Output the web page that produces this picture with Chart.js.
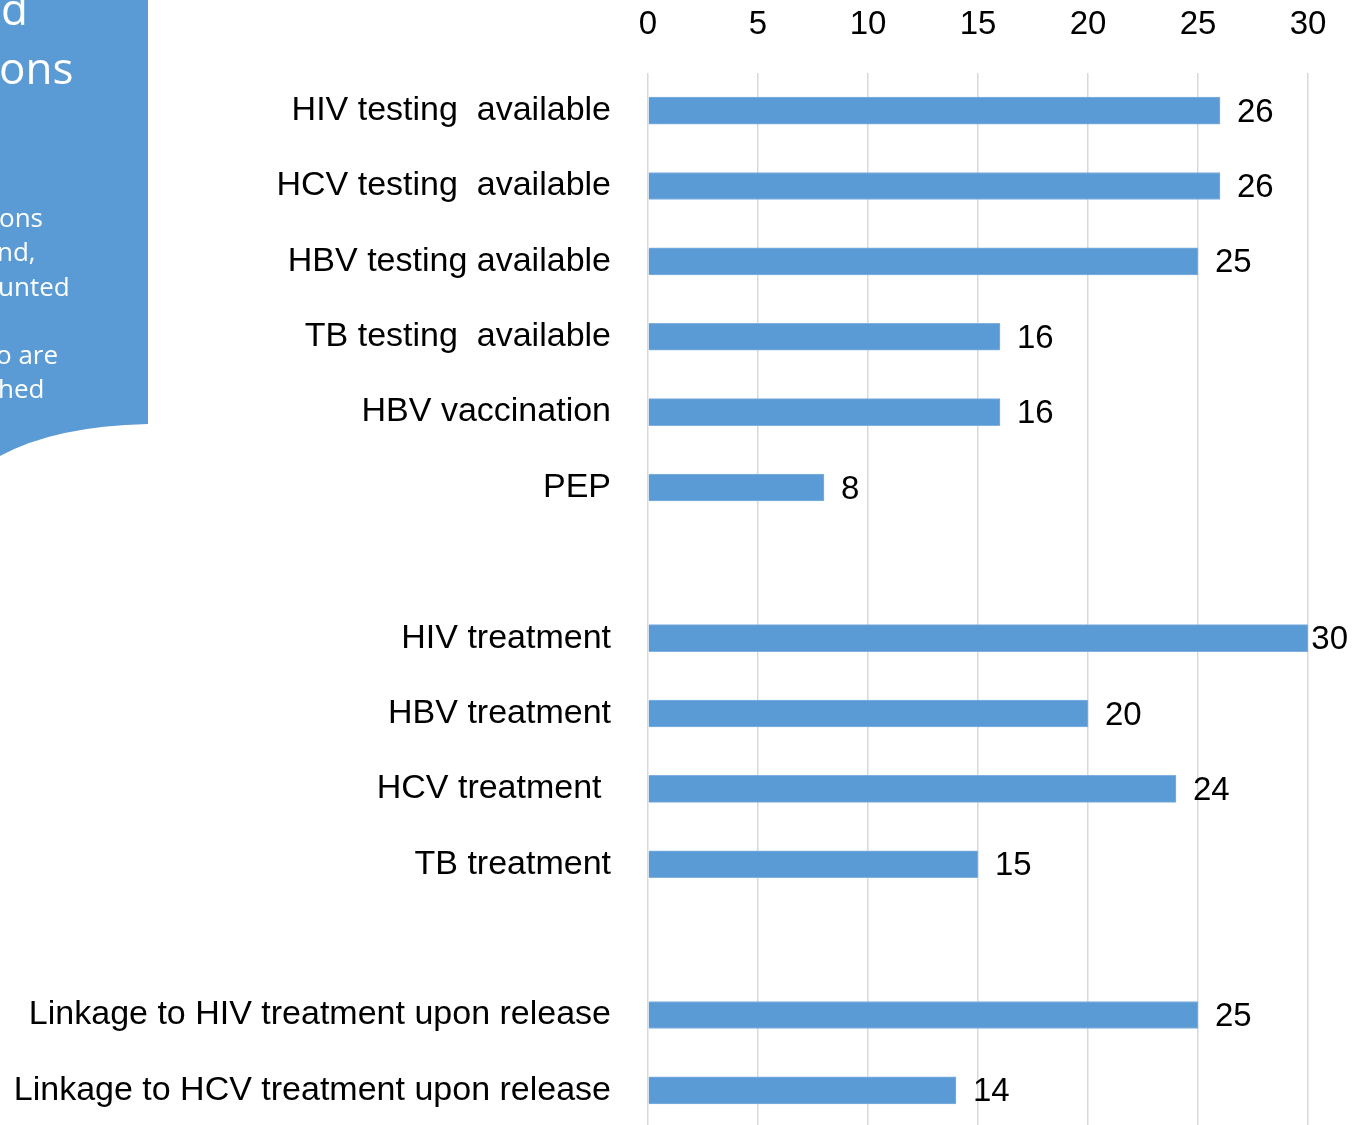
<!DOCTYPE html>
<html>
<head>
<meta charset="utf-8">
<script src="https://cdn.jsdelivr.net/npm/chart.js@4/dist/chart.umd.min.js"></script>
<style>
  html, body { margin: 0; padding: 0; background: #ffffff; overflow: hidden; }
  #wrap { width: 1366px; height: 1128px; position: relative; }
</style>
</head>
<body>
<div id="wrap"><canvas id="c"></canvas></div>
<script>
const categories = [
  "HIV testing  available",
  "HCV testing  available",
  "HBV testing available",
  "TB testing  available",
  "HBV vaccination",
  "PEP",
  "",
  "HIV treatment",
  "HBV treatment",
  "HCV treatment ",
  "TB treatment",
  "",
  "Linkage to HIV treatment upon release",
  "Linkage to HCV treatment upon release"
];
const values = [26, 26, 25, 16, 16, 8, null, 30, 20, 24, 15, null, 25, 14];
const xMin = 0, xMax = 30, xStep = 5;

const panelTitle = [
  { t: "d", x: 1, y: 25 },
  { t: "ons", x: -1, y: 84 }
];
const panelText = [
  { t: "ons", x: -1, y: 227 },
  { t: "nd,", x: -3, y: 261 },
  { t: "unted", x: -2, y: 296 },
  { t: "o are", x: -4, y: 364 },
  { t: "hed", x: -2, y: 398 }
];

const FONT = "'Liberation Sans', Arial, sans-serif";
const BLUE = "#5B9BD5";

const panelPlugin = {
  id: 'panel',
  beforeDraw(chart) {
    const ctx = chart.ctx;
    ctx.save();
    ctx.fillStyle = BLUE;
    ctx.beginPath();
    ctx.moveTo(0, 0);
    ctx.lineTo(148, 0);
    ctx.lineTo(148, 424);
    ctx.quadraticCurveTo(55, 426, 0, 456);
    ctx.closePath();
    ctx.fill();
    ctx.fillStyle = "#ffffff";
    ctx.textAlign = "left";
    ctx.textBaseline = "alphabetic";
    ctx.font = "44px 'Open Sans', sans-serif";
    panelTitle.forEach(p => ctx.fillText(p.t, p.x, p.y));
    ctx.font = "26px 'Open Sans', sans-serif";
    panelText.forEach(p => ctx.fillText(p.t, p.x, p.y));
    ctx.restore();
  }
};

const labelPlugin = {
  id: 'valueLabels',
  afterDatasetsDraw(chart) {
    const ctx = chart.ctx;
    const meta = chart.getDatasetMeta(0);
    ctx.save();
    ctx.font = "33px " + FONT;
    ctx.fillStyle = "#000000";
    ctx.textAlign = "left";
    ctx.textBaseline = "middle";
    meta.data.forEach((bar, i) => {
      const v = values[i];
      if (v === null || v === undefined) return;
      const txt = String(v);
      const w = ctx.measureText(txt).width;
      let x = bar.x + 17;
      const maxRight = chart.width - 18;
      if (x + w > maxRight) x = maxRight - w;
      ctx.fillText(txt, x, bar.y + 2);
    });
    ctx.restore();
  }
};

new Chart(document.getElementById('c'), {
  type: 'bar',
  data: {
    labels: categories,
    datasets: [{
      data: values,
      backgroundColor: BLUE,
      borderColor: "#7FB0E0",
      borderWidth: 1,
      barThickness: 27
    }]
  },
  options: {
    indexAxis: 'y',
    responsive: true,
    maintainAspectRatio: false,
    animation: false,
    layout: { padding: { left: 0, right: 58, top: 0, bottom: 0 } },
    plugins: { legend: { display: false }, tooltip: { enabled: false } },
    scales: {
      x: {
        position: 'top',
        min: xMin, max: xMax,
        afterFit(scale) { scale.height = 73; },
        ticks: { stepSize: xStep, color: "#000000", font: { family: FONT, size: 33 }, padding: 28 },
        grid: { color: "#D9D9D9", lineWidth: 1.5, drawTicks: false },
        border: { display: false }
      },
      y: {
        afterFit(scale) { scale.width = 648; scale.paddingTop = 0; scale.paddingBottom = 0; },
        ticks: { color: "#000000", font: { family: FONT, size: 34 }, padding: 37, autoSkip: false },
        grid: { display: false, drawTicks: false },
        border: { display: false }
      }
    }
  },
  plugins: [panelPlugin, labelPlugin]
});
</script>
</body>
</html>
